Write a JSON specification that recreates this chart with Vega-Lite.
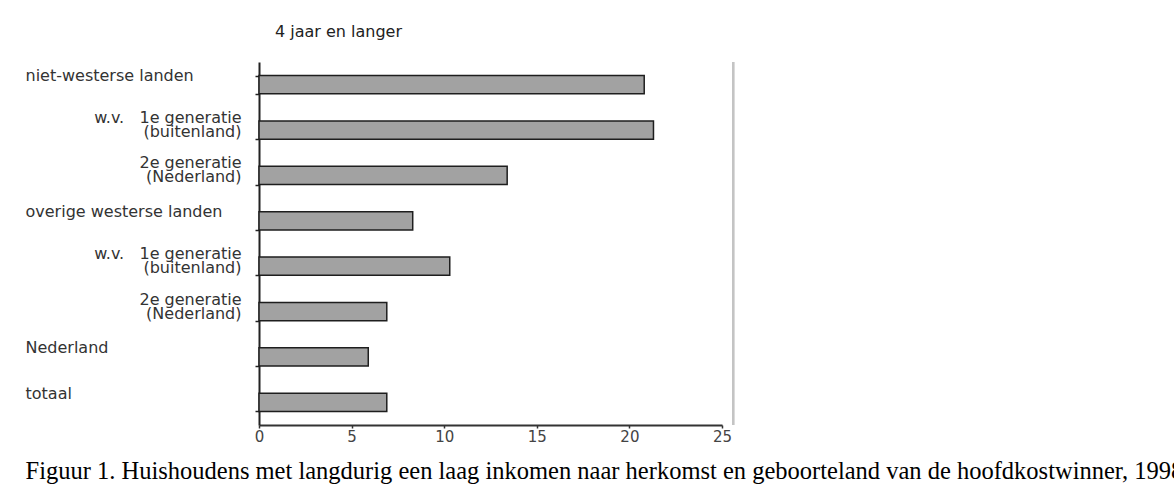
{
  "$schema": "https://vega.github.io/schema/vega-lite/v6.json",
  "autosize": {"type": "none"},
  "width": 463,
  "height": 363,
  "padding": {"left": 259, "top": 62, "right": 452, "bottom": 64},
  "background": "white",
  "title": {
    "text": "4 jaar en langer",
    "anchor": "start",
    "frame": "group",
    "dx": 16,
    "offset": -2,
    "baseline": "bottom",
    "font": "DejaVu Sans",
    "fontSize": 16,
    "fontWeight": "normal",
    "color": "#222222"
  },
  "data": {
    "values": [
      {"k": "nw", "v": 20.8},
      {"k": "nw1", "v": 21.3},
      {"k": "nw2", "v": 13.4},
      {"k": "ow", "v": 8.3},
      {"k": "ow1", "v": 10.3},
      {"k": "ow2", "v": 6.9},
      {"k": "nl", "v": 5.9},
      {"k": "tot", "v": 6.9}
    ]
  },
  "layer": [
    {
      "mark": {"type": "bar", "fill": "#a2a2a2", "stroke": "#1e1e1e", "strokeWidth": 1.5},
      "encoding": {
        "x": {
          "field": "v",
          "type": "quantitative",
          "scale": {"domain": [0, 25], "nice": false, "zero": true},
          "axis": {
            "orient": "bottom",
            "values": [0, 5, 10, 15, 20, 25],
            "grid": false,
            "domainColor": "#333333",
            "domainWidth": 2,
            "tickColor": "#333333",
            "tickSize": 3,
            "tickWidth": 1.5,
            "labelFont": "DejaVu Sans",
            "labelFontSize": 15,
            "labelColor": "#444444",
            "labelPadding": 1,
            "labelFlush": false,
            "title": "Figuur 1. Huishoudens met langdurig een laag inkomen naar herkomst en geboorteland van de hoofdkostwinner, 1998",
            "titleFont": "Liberation Serif",
            "titleFontSize": 24.5,
            "titleFontWeight": "normal",
            "titleColor": "#000000",
            "titleX": -234,
            "titleY": 53,
            "titleAlign": "left",
            "titleAnchor": "start",
            "titleBaseline": "alphabetic",
            "titleLimit": 0
          }
        },
        "y": {
          "field": "k",
          "type": "nominal",
          "sort": ["nw", "nw1", "nw2", "ow", "ow1", "ow2", "nl", "tot"],
          "scale": {"paddingInner": 0.6, "paddingOuter": 0.3},
          "axis": {
            "orient": "left",
            "title": null,
            "grid": false,
            "domainColor": "#222222",
            "domainWidth": 2,
            "ticks": true,
            "tickBand": "extent",
            "tickSize": 4,
            "tickWidth": 1.5,
            "tickColor": "#222222",
            "labelAlign": "left",
            "labelBaseline": "middle",
            "labelPadding": 230,
            "labelOffset": -9,
            "labelFont": "DejaVu Sans",
            "labelFontSize": 16,
            "labelColor": "#333333",
            "labelLimit": 0,
            "labelOverlap": false,
            "labelBound": false,
            "labelExpr": "datum.value == 'nw' ? 'niet-westerse landen' : datum.value == 'ow' ? 'overige westerse landen' : datum.value == 'nl' ? 'Nederland' : datum.value == 'tot' ? 'totaal' : ''"
          }
        }
      }
    },
    {
      "mark": {"type": "bar", "opacity": 0},
      "encoding": {
        "x": {"field": "v", "type": "quantitative"},
        "y": {
          "field": "k",
          "type": "nominal",
          "sort": ["nw", "nw1", "nw2", "ow", "ow1", "ow2", "nl", "tot"],
          "axis": {
            "orient": "left",
            "title": null,
            "grid": false,
            "domain": false,
            "ticks": false,
            "tickSize": 0,
            "labelAlign": "right",
            "labelBaseline": "middle",
            "labelPadding": 18,
            "labelOffset": -12,
            "labelLineHeight": 14,
            "labelFont": "DejaVu Sans",
            "labelFontSize": 16,
            "labelColor": "#333333",
            "labelLimit": 0,
            "labelOverlap": false,
            "labelBound": false,
            "labelExpr": "datum.value == 'nw1' || datum.value == 'ow1' ? ['w.v.\u00a0\u00a0 1e generatie', '(buitenland)'] : datum.value == 'nw2' || datum.value == 'ow2' ? ['2e generatie', '(Nederland)'] : ''"
          }
        }
      }
    },
    {
      "mark": {"type": "rule", "color": "#c4c4c4", "strokeWidth": 2},
      "encoding": {
        "x": {"datum": 25.6, "type": "quantitative"}
      }
    }
  ],
  "resolve": {"axis": {"y": "independent"}},
  "config": {"view": {"stroke": null}}
}
